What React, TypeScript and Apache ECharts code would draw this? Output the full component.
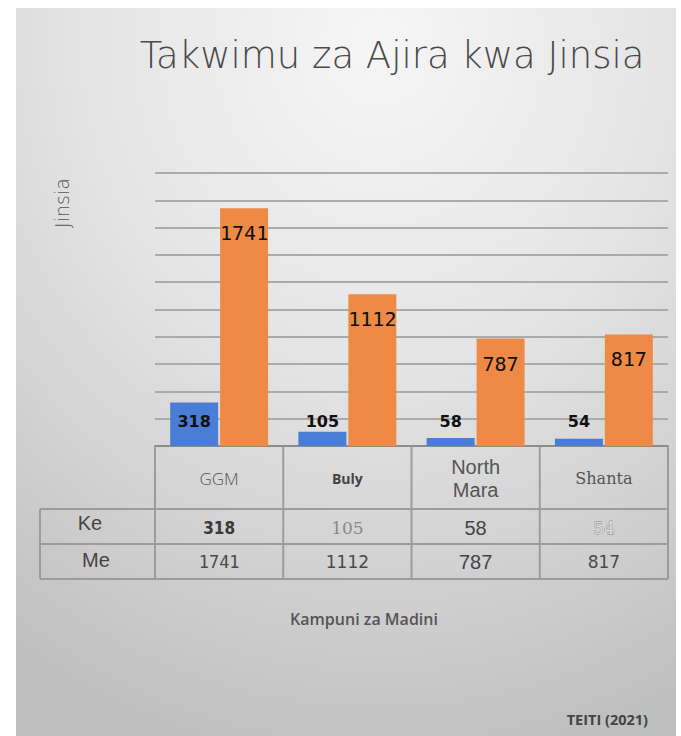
import React, { useEffect, useRef } from "react";
import * as echarts from "echarts";

const categories = ["GGM", "Buly", "North Mara", "Shanta"];
const keValues = [318, 105, 58, 54];
const meValues = [1741, 1112, 787, 817];
const rowNames = ["Ke", "Me"];
const yTicks = { min: 0, max: 2000, interval: 200 };

const W = 681;
const H = 736;
const GRID_L = 155;
const GRID_R = 668;
const BASE_Y = 446;
const ROW1 = 509;
const ROW2 = 544;
const ROW3 = 579;
const TABLE_L = 40;

const catRich = ["ggm", "buly", "nm", "shanta"];
const keStyles: any[] = [
  { fontFamily: "DejaVu Sans Condensed", fontWeight: "bold", fontSize: 17, fill: "#3a3a3a" },
  { fontFamily: "DejaVu Serif", fontWeight: "normal", fontSize: 17, fill: "#8a8a8a" },
  { fontFamily: "Liberation Sans", fontWeight: "normal", fontSize: 20, fill: "#444" },
  { fontFamily: "DejaVu Serif", fontWeight: "normal", fontSize: 17, fill: "#dcdcdc", stroke: "#888", lineWidth: 0.8 },
];
const meStyles: any[] = [
  { fontFamily: "DejaVu Sans Mono", fontSize: 17, fill: "#4a4a4a" },
  { fontFamily: "DejaVu Sans", fontSize: 17, fill: "#4a4a4a" },
  { fontFamily: "Liberation Sans", fontSize: 20, fill: "#444" },
  { fontFamily: "DejaVu Sans", fontSize: 17, fill: "#4a4a4a" },
];

export default function App() {
  const ref = useRef<HTMLDivElement>(null);
  useEffect(() => {
    if (!ref.current) return;
    const chart = echarts.init(ref.current, null, { renderer: "svg" });
    const colW = (GRID_R - GRID_L) / categories.length;
    const lineStyle = { stroke: "#9c9c9c", lineWidth: 2 };
    const graphics: any[] = [
      {
        type: "rect",
        z: -10,
        shape: { x: 16, y: 8, width: 660, height: 728 },
        style: {
          fill: {
            type: "radial",
            x: 0.55,
            y: 0.05,
            r: 1.0,
            colorStops: [
              { offset: 0, color: "#f6f6f6" },
              { offset: 0.45, color: "#e4e4e4" },
              { offset: 1, color: "#bfbfbf" },
            ],
          },
        },
      },
      {
        type: "text",
        x: 62,
        y: 203,
        rotation: Math.PI / 2,
        style: {
          text: "Jinsia",
          fontFamily: "DejaVu Sans",
          fontWeight: 300,
          fontSize: 19,
          fill: "#555",
          align: "center",
          verticalAlign: "middle",
        },
      },
      {
        type: "text",
        x: 364,
        y: 619,
        style: {
          text: "Kampuni za Madini",
          fontFamily: "Open Sans",
          fontWeight: 600,
          fontSize: 16,
          fill: "#555",
          align: "center",
          verticalAlign: "middle",
        },
      },
      {
        type: "text",
        x: 648,
        y: 719,
        style: {
          text: "TEITI (2021)",
          fontFamily: "Open Sans",
          fontWeight: "bold",
          fontSize: 14.5,
          fill: "#444",
          align: "right",
          verticalAlign: "middle",
        },
      },
    ];
    for (let i = 0; i <= categories.length; i++) {
      const x = GRID_L + colW * i;
      graphics.push({ type: "line", z: 5, shape: { x1: x, y1: BASE_Y, x2: x, y2: ROW3 }, style: lineStyle });
    }
    graphics.push({ type: "line", z: 5, shape: { x1: TABLE_L, y1: ROW1, x2: TABLE_L, y2: ROW3 }, style: lineStyle });
    [ROW1, ROW2, ROW3].forEach((y) => {
      graphics.push({ type: "line", z: 5, shape: { x1: TABLE_L, y1: y, x2: GRID_R, y2: y }, style: lineStyle });
    });
    rowNames.forEach((name, r) => {
      graphics.push({
        type: "text",
        z: 6,
        x: r === 0 ? 90 : 96,
        y: r === 0 ? 523 : 560,
        style: {
          text: name,
          fontFamily: "Liberation Sans",
          fontSize: 20,
          fill: "#444",
          align: "center",
          verticalAlign: "middle",
        },
      });
    });
    categories.forEach((_, i) => {
      const cx = GRID_L + colW * (i + 0.5);
      graphics.push({
        type: "text",
        z: 6,
        x: cx,
        y: (ROW1 + ROW2) / 2 + 1,
        style: { text: String(keValues[i]), align: "center", verticalAlign: "middle", ...keStyles[i] },
      });
      graphics.push({
        type: "text",
        z: 6,
        x: cx,
        y: (ROW2 + ROW3) / 2,
        style: { text: String(meValues[i]), align: "center", verticalAlign: "middle", ...meStyles[i] },
      });
    });

    chart.setOption({
      animation: false,
      title: {
        text: "Takwimu za Ajira kwa Jinsia",
        left: 387,
        top: 32,
        textAlign: "center",
        textStyle: {
          fontFamily: "DejaVu Sans",
          fontWeight: 300,
          fontSize: 37,
          color: "#4a4a4a",
        },
      },
      grid: { left: GRID_L, right: W - GRID_R, top: BASE_Y - 273, bottom: H - BASE_Y, containLabel: false },
      xAxis: {
        type: "category",
        data: categories,
        axisLine: { show: true, lineStyle: { color: "#8c8c8c", width: 2 } },
        axisTick: { show: false },
        axisLabel: {
          interval: 0,
          margin: 32,
          verticalAlign: "middle",
          formatter: (v: string) => {
            const i = categories.indexOf(v);
            const txt = v === "North Mara" ? "North\nMara" : v;
            return txt
              .split("\n")
              .map((t) => `{${catRich[i]}|${t}}`)
              .join("\n");
          },
          rich: {
            ggm: { fontFamily: "Open Sans", fontWeight: 300, fontSize: 17, color: "#555" },
            buly: { fontFamily: "Open Sans", fontWeight: "bold", fontSize: 14, color: "#444" },
            nm: { fontFamily: "Liberation Sans", fontSize: 20, color: "#555", lineHeight: 23 },
            shanta: { fontFamily: "DejaVu Serif", fontSize: 16, color: "#555" },
          },
        },
      },
      yAxis: {
        type: "value",
        min: yTicks.min,
        max: yTicks.max,
        interval: yTicks.interval,
        axisLabel: { show: false },
        axisLine: { show: false },
        axisTick: { show: false },
        splitLine: { lineStyle: { color: "#ababab", width: 2 } },
      },
      series: [
        {
          name: "Ke",
          type: "bar",
          data: keValues,
          barWidth: 48,
          barGap: "4%",
          itemStyle: { color: "#4a7dd6" },
          label: {
            show: true,
            position: "insideBottom",
            distance: 17,
            fontFamily: "DejaVu Sans",
            fontWeight: "bold",
            fontSize: 16,
            color: "#111",
          },
        },
        {
          name: "Me",
          type: "bar",
          data: meValues,
          barWidth: 48,
          itemStyle: { color: "#ee8a45" },
          label: {
            show: true,
            position: "insideTop",
            distance: 15,
            fontFamily: "DejaVu Sans Mono",
            fontSize: 20,
            color: "#111",
          },
        },
      ],
      graphic: graphics,
    });
    return () => chart.dispose();
  }, []);
  return <div ref={ref} style={{ width: W, height: H, position: "absolute", left: 0, top: 0 }} />;
}
